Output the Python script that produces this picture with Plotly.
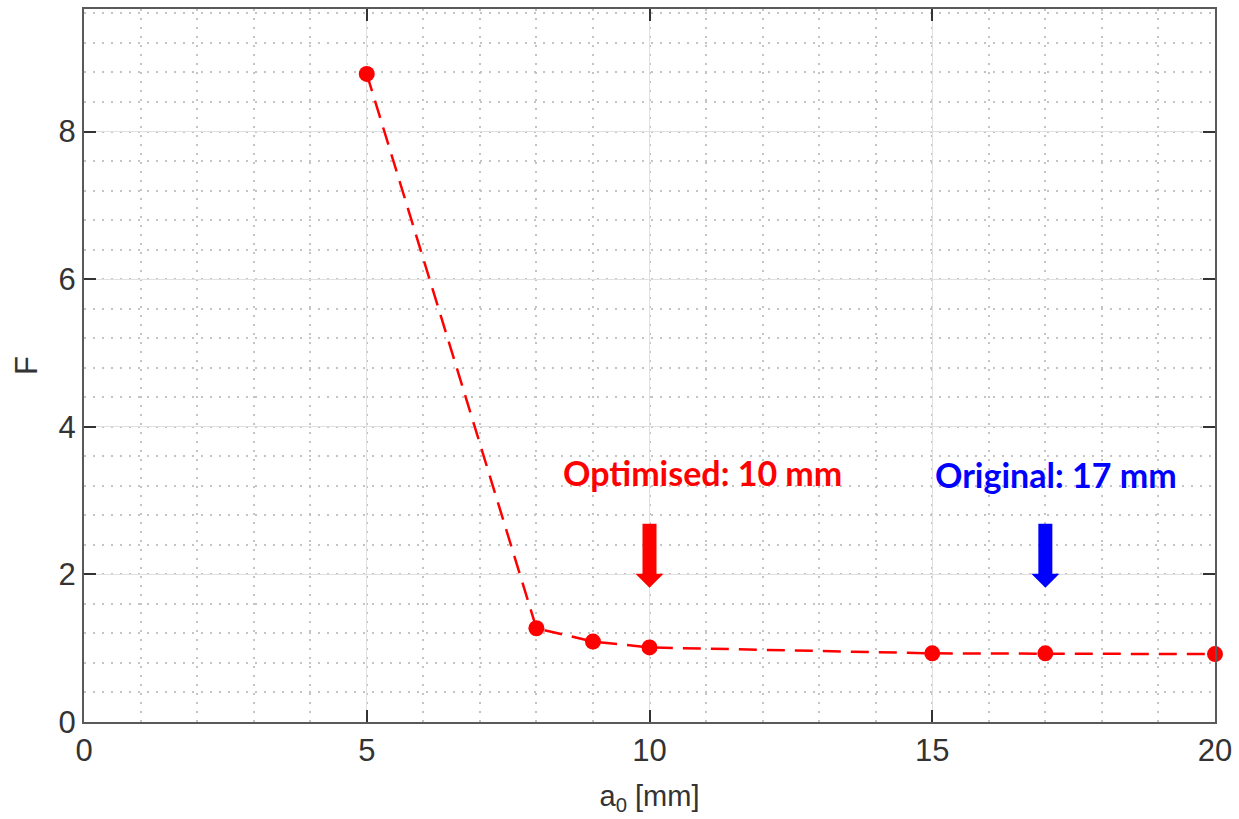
import plotly.graph_objects as go

# Initial crack length a0 [mm] against factor F
a0_mm = [5, 8, 9, 10, 15, 17, 20]
f_values = [8.78, 1.27, 1.09, 1.01, 0.93, 0.93, 0.92]

x_ticks = [0, 5, 10, 15, 20]
y_ticks = [0, 2, 4, 6, 8]

optimised_a0 = 10
original_a0 = 17

RED = "#ff0000"
BLUE = "#0000ff"
AXIS = "#5a5a5a"
TEXT = "#333333"

fig = go.Figure()
fig.add_trace(go.Scatter(
    x=a0_mm, y=f_values, mode="lines+markers",
    line=dict(color=RED, width=2.5, dash="18px,10px"),
    marker=dict(color=RED, size=16),
    cliponaxis=False, showlegend=False,
))

# Down-pointing block arrows drawn in pixel units about their tips
arrow_path = "M -7 64 L 7 64 L 7 14 L 14 14 L 0 0 L -14 14 L -7 14 Z"
ARROW_TIP_F = 1.82
for xa, col in [(optimised_a0, RED), (original_a0, BLUE)]:
    fig.add_shape(
        type="path", path=arrow_path,
        xref="x", yref="y", xsizemode="pixel", ysizemode="pixel",
        xanchor=xa, yanchor=ARROW_TIP_F,
        fillcolor=col, line=dict(width=0),
    )

label_font = dict(family="Lato", size=34, weight="bold")
fig.add_annotation(x=optimised_a0 + 0.94, y=3.38, text=f"Optimised: {optimised_a0} mm",
                   showarrow=False, font=dict(**label_font, color=RED))
fig.add_annotation(x=original_a0 + 0.19, y=3.35, text=f"Original: {original_a0} mm",
                   showarrow=False, font=dict(**label_font, color=BLUE))

axis_common = dict(
    showline=True, linecolor=AXIS, linewidth=2, mirror="ticks",
    ticks="inside", ticklen=12, tickwidth=2, tickcolor="#333333",
    showgrid=True, gridcolor="#e0e0e0", gridwidth=1,
    zeroline=False,
    tickfont=dict(family="Liberation Sans", size=31, color=TEXT),
)
minor_grid = dict(showgrid=True, gridcolor="#c4c4c4", griddash="2px,7px", gridwidth=1.5, ticks="")

fig.update_xaxes(
    **axis_common, range=[0, 20], tickvals=x_ticks,
    minor=dict(dtick=1, **minor_grid),
    title=dict(text="a<sub>0</sub> [mm]", font=dict(family="Liberation Sans", size=29, color=TEXT), standoff=18),
)
fig.update_yaxes(
    **axis_common, range=[0, 9.66], tickvals=y_ticks,
    minor=dict(dtick=0.4, **minor_grid),
    title=dict(text="F", font=dict(family="Liberation Sans", size=31, color=TEXT), standoff=12),
)

fig.update_layout(
    width=1239, height=819,
    margin=dict(l=84, r=20, t=7, b=97),
    paper_bgcolor="white", plot_bgcolor="white",
)

fig.write_html("out.html")
